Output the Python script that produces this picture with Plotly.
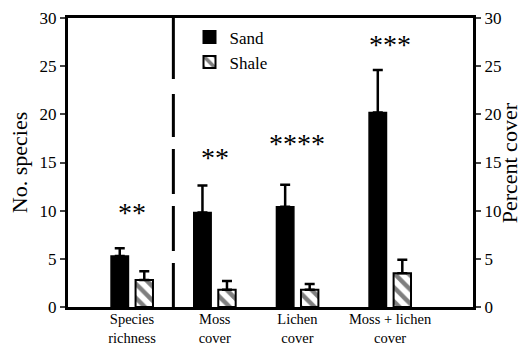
import plotly.graph_objects as go

categories = ["Species<br>richness", "Moss<br>cover", "Lichen<br>cover", "Moss + lichen<br>cover"]
sand = [5.3, 9.8, 10.4, 20.2]
sand_err = [0.8, 2.8, 2.3, 4.4]
shale = [2.8, 1.8, 1.8, 3.5]
shale_err = [0.9, 0.9, 0.6, 1.4]
stars = ["**", "**", "****", "***"]
star_y = [9.8, 15.5, 17.0, 27.2]
yticks = [0, 5, 10, 15, 20, 25, 30]

pos = [1, 2, 3, 4.12]
FONT = "Liberation Serif"

fig = go.Figure()
fig.add_trace(go.Bar(
    x=pos, y=sand, name="Sand",
    marker=dict(color="black", line=dict(color="black", width=1.5)),
    error_y=dict(type="data", array=sand_err, arrayminus=[0]*4, symmetric=False,
                 color="black", thickness=2.5, width=5),
))
fig.add_trace(go.Bar(
    x=pos, y=shale, name="Shale",
    marker=dict(color="white", line=dict(color="black", width=2),
                pattern=dict(shape="\\", fgcolor="black", bgcolor="white", size=10, solidity=0.45)),
    error_y=dict(type="data", array=shale_err, arrayminus=[0]*4, symmetric=False,
                 color="black", thickness=2.5, width=5),
))
# invisible trace on right axis
fig.add_trace(go.Scatter(x=[pos[0]], y=[0], yaxis="y2", mode="markers",
                         marker=dict(opacity=0), showlegend=False, hoverinfo="skip"))

for p, s, sy in zip(pos, stars, star_y):
    fig.add_annotation(x=p, y=sy, text=s, showarrow=False,
                       font=dict(family=FONT, size=28, color="black"), yanchor="middle")

fig.add_annotation(x=1.091, y=0.5, xref="paper", yref="paper", text="Percent cover",
                   textangle=-90, showarrow=False, xanchor="center", yanchor="middle",
                   font=dict(family=FONT, size=22, color="black"))

fig.add_shape(type="line", x0=1.5, x1=1.5, y0=0, y1=30, xref="x", yref="y",
              line=dict(color="black", width=3,
                        dash="44px,12px,45px,12px,45px,12px,43px,15px,62px"))

fig.update_layout(
    width=526, height=346,
    margin=dict(l=68, r=53, t=18, b=39),
    paper_bgcolor="white", plot_bgcolor="white",
    barmode="group", bargap=0.407, bargroupgap=0.29,
    font=dict(family=FONT, size=16, color="black"),
    showlegend=True,
    legend=dict(x=0.30, y=0.995, xanchor="left", yanchor="top",
                bgcolor="rgba(0,0,0,0)", font=dict(family=FONT, size=17),
                tracegroupgap=0, itemsizing="constant"),
    xaxis=dict(range=[0.226, 5.123], tickvals=pos, ticktext=categories,
               showgrid=False, zeroline=False, ticks="", showline=True,
               linecolor="black", linewidth=3, mirror=True, automargin=False,
               ticklabelstandoff=-3,
               tickfont=dict(family=FONT, size=14.5)),
    yaxis=dict(range=[0, 30], tickvals=yticks,
               showgrid=False, zeroline=False, ticks="outside", ticklen=5,
               tickwidth=2, showline=True, linecolor="black", linewidth=3,
               automargin=False,
               title=dict(text="No. species", font=dict(family=FONT, size=22), standoff=6),
               tickfont=dict(family=FONT, size=17)),
    yaxis2=dict(range=[0, 30], tickvals=yticks, overlaying="y", side="right",
                showgrid=False, zeroline=False, ticks="outside", ticklen=5,
                tickwidth=2, showline=True, linecolor="black", linewidth=3,
                automargin=False,
                tickfont=dict(family=FONT, size=17)),
)

fig.write_html("out.html", post_script="document.body.style.margin='0';",
               config={"displayModeBar": False})
